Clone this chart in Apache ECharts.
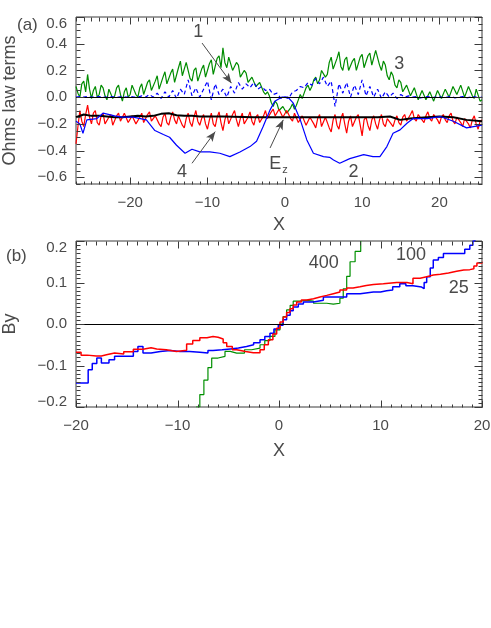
<!DOCTYPE html>
<html><head><meta charset="utf-8">
<script src="https://cdn.jsdelivr.net/npm/echarts@6/dist/echarts.min.js"></script>
<style>html,body{margin:0;padding:0;background:#fff}#c{width:491px;height:628px}</style>
</head><body><div id="c"></div>
<script>
// ---------- Panel (a): Ohm's law terms ----------
const A_X0 = -27, A_DX = 0.25;
const term3Green = [
  0.08,0.03,0.0,0.1,0.12,0.04,0.17,0.06,-0.01,0.05,
  0.08,0.0,0.02,0.09,0.07,0.01,-0.02,0.06,0.06,-0.01,
  0.01,0.07,0.09,0.02,-0.03,0.04,0.07,0.0,0.02,0.09,
  0.08,0.02,0.0,0.07,0.1,0.02,0.03,0.11,0.13,0.05,
  0.05,0.12,0.16,0.06,0.07,0.15,0.19,0.1,0.09,0.18,
  0.21,0.11,0.12,0.22,0.27,0.16,0.15,0.26,0.25,0.14,
  0.12,0.2,0.22,0.12,0.13,0.21,0.24,0.15,0.14,0.25,
  0.28,0.17,0.18,0.29,0.31,0.22,0.37,0.26,0.22,0.3,
  0.31,0.2,0.19,0.26,0.24,0.15,0.14,0.2,0.18,0.11,
  0.1,0.15,0.14,0.08,0.08,0.11,0.1,0.04,0.02,0.04,
  0.01,-0.04,-0.07,-0.03,-0.05,-0.1,-0.11,-0.07,-0.08,-0.12,
  -0.12,-0.08,-0.05,-0.09,-0.06,-0.02,0.02,-0.01,0.03,0.07,
  0.09,0.05,0.08,0.13,0.15,0.1,0.13,0.2,0.21,0.15,
  0.17,0.26,0.3,0.21,0.2,0.29,0.34,0.23,0.2,0.28,
  0.3,0.2,0.19,0.27,0.29,0.2,0.21,0.3,0.32,0.22,
  0.22,0.31,0.33,0.24,0.25,0.35,0.34,0.24,0.2,0.27,
  0.24,0.16,0.13,0.19,0.16,0.09,0.07,0.13,0.11,0.04,
  0.03,0.09,0.08,0.01,0.0,0.07,0.06,-0.02,-0.01,0.05,
  0.05,-0.02,-0.03,0.04,0.04,-0.03,-0.02,0.05,0.05,-0.01,
  0.0,0.06,0.07,0.0,0.01,0.08,0.09,0.02,0.02,0.09,
  0.08,0.0,0.01,0.08,0.09,0.01,-0.01,0.06,0.07,-0.03,
  -0.02];
const term4Red = [
  -0.35,-0.22,-0.1,-0.18,-0.22,-0.13,-0.06,-0.15,-0.2,-0.12,
  -0.1,-0.19,-0.21,-0.14,-0.12,-0.2,-0.2,-0.15,-0.13,-0.21,
  -0.22,-0.14,-0.12,-0.18,-0.19,-0.12,-0.11,-0.19,-0.2,-0.14,
  -0.13,-0.2,-0.21,-0.15,-0.12,-0.19,-0.2,-0.13,-0.11,-0.18,
  -0.19,-0.14,-0.13,-0.2,-0.22,-0.15,-0.12,-0.19,-0.21,-0.15,
  -0.11,-0.17,-0.2,-0.14,-0.13,-0.21,-0.23,-0.16,-0.12,-0.19,
  -0.22,-0.15,-0.1,-0.18,-0.21,-0.16,-0.13,-0.2,-0.24,-0.17,
  -0.12,-0.2,-0.22,-0.15,-0.11,-0.19,-0.25,-0.17,-0.12,-0.2,
  -0.2,-0.13,-0.1,-0.17,-0.22,-0.16,-0.12,-0.2,-0.2,-0.15,
  -0.11,-0.18,-0.21,-0.15,-0.13,-0.19,-0.19,-0.14,-0.1,-0.16,
  -0.15,-0.11,-0.09,-0.14,-0.14,-0.09,-0.1,-0.15,-0.15,-0.1,
  -0.11,-0.16,-0.18,-0.12,-0.12,-0.19,-0.2,-0.14,-0.13,-0.21,
  -0.22,-0.15,-0.14,-0.2,-0.23,-0.16,-0.13,-0.22,-0.21,-0.15,
  -0.14,-0.23,-0.26,-0.17,-0.13,-0.21,-0.24,-0.16,-0.12,-0.2,
  -0.27,-0.18,-0.14,-0.22,-0.22,-0.15,-0.13,-0.21,-0.29,-0.17,
  -0.15,-0.21,-0.25,-0.17,-0.14,-0.2,-0.24,-0.17,-0.13,-0.2,
  -0.22,-0.16,-0.15,-0.2,-0.22,-0.17,-0.14,-0.19,-0.21,-0.15,
  -0.13,-0.18,-0.19,-0.13,-0.1,-0.16,-0.18,-0.13,-0.12,-0.17,
  -0.19,-0.14,-0.11,-0.16,-0.18,-0.13,-0.12,-0.17,-0.2,-0.15,
  -0.13,-0.17,-0.19,-0.14,-0.12,-0.18,-0.2,-0.15,-0.14,-0.19,
  -0.22,-0.16,-0.15,-0.2,-0.23,-0.17,-0.14,-0.2,-0.24,-0.18,
  -0.17];
const B_X0 = -27, B_DX = 0.5;
const term1BlueDashed = [0.0,0.005,0.0,0.005,0.0,0.0,0.005,0.0,0.0,0.005,0.0,0.0,0.005,0.0,0.005,0.0,0.0,0.01,0.0,0.02,
  0.0,0.03,-0.01,0.04,0.0,0.05,-0.01,0.06,0.02,0.13,0.01,0.07,0.0,0.06,0.12,-0.02,0.1,0.02,0.06,0.0,
  0.08,0.03,0.11,0.06,0.1,0.07,0.11,0.06,0.08,0.05,0.06,0.02,0.03,-0.01,0.0,-0.01,0.04,0.05,0.08,0.07,
  0.11,0.09,0.14,0.1,0.15,0.08,0.12,-0.07,0.1,0.03,0.11,0.0,0.09,0.02,0.13,0.01,0.08,0.0,0.06,-0.01,
  0.04,0.0,0.03,-0.01,0.02,0.0,0.01,0.0,0.005,-0.005,0.0,0.005,-0.005,0.0,0.005,-0.005,0.0,0.005,-0.005,0.0,
  0.005,-0.005,0.0,0.005,-0.005,0.0];
const term2X = [-27,-26.5,-26.1,-25.6,-24.3,-23.5,-22,-21,-19.6,-17.9,-16.8,-15.7,-14.9,-14,-12.9,-12,-11,-9.7,-8.4,-7.1,
  -5.8,-4.5,-3.65,-2.8,-1.9,-1.3,-0.4,0.4,1.1,2,2.85,3.7,5,5.8,6.3,7.1,8.4,10.2,11.4,12.3,13.2,14,14.9,15.8,16.6,18.4,20.1,21.8,23.5,25.5];
const term2Y = [-0.18,-0.2,-0.27,-0.17,-0.16,-0.12,-0.14,-0.15,-0.15,-0.17,-0.25,-0.28,-0.3,-0.36,-0.42,-0.39,-0.41,-0.41,-0.42,-0.445,
  -0.41,-0.37,-0.33,-0.22,-0.095,-0.03,0.0,0.0,-0.045,-0.17,-0.32,-0.42,-0.445,-0.45,-0.47,-0.495,-0.46,-0.43,-0.445,-0.445,
  -0.37,-0.27,-0.245,-0.195,-0.16,-0.16,-0.145,-0.18,-0.23,-0.21];
const ezX = [-27,-26,-25,-24,-23,-22,-21,-20,-19,-18,-17,-16,-15,-14,-13,-12,-11,-8,-4,0,4,8,12,13.6,14.9,16.2,18.4,20,21.8,23.5,25.5];
const ezY = [-0.15,-0.13,-0.14,-0.14,-0.145,-0.15,-0.15,-0.145,-0.14,-0.145,-0.14,-0.125,-0.12,-0.135,-0.14,-0.14,-0.145,-0.145,-0.15,-0.15,-0.15,-0.15,-0.15,-0.145,-0.17,-0.16,-0.15,-0.145,-0.15,-0.17,-0.18];
const aXTicks = [-20,-10,0,10,20];
const aYTicks = [-0.6,-0.4,-0.2,0,0.2,0.4,0.6];

// ---------- Panel (b): By ----------
const by100X = [-20,-19.3,-18.8,-18.4,-17.95,-17.5,-16.75,-16.2,-15.3,-14.35,-13.9,-13.4,-12.6,-11.7,-10.7,-9.75,-8.8,-7.8,-7,-6.5,
  -5.6,-4.8,-4,-3.2,-2.5,-1.87,-1.4,-0.89,-0.5,-0.07,0.4,0.75,1.1,1.4,1.9,2.4,3.4,4.37,5.7,6.67,
  8,9.3,10,10.6,11.2,11.9,12.5,13.2,14.05,14.3,14.55,14.9,15.2,15.7,16.2,17,17.8,18.3,18.8,19.1,19.3];
const by100Y = [-0.142,-0.142,-0.11,-0.095,-0.082,-0.094,-0.086,-0.078,-0.078,-0.066,-0.054,-0.07,-0.066,-0.064,-0.066,-0.066,-0.068,-0.07,-0.064,-0.062,
  -0.06,-0.058,-0.054,-0.05,-0.045,-0.038,-0.03,-0.022,-0.012,-0.003,0.01,0.021,0.032,0.041,0.048,0.053,0.057,0.065,0.065,0.073,
  0.077,0.077,0.08,0.082,0.09,0.097,0.092,0.089,0.085,0.1,0.114,0.135,0.154,0.16,0.17,0.17,0.17,0.18,0.19,0.2,0.21];
const by25X = [-20,-19.5,-18.9,-18,-17.5,-17,-16.2,-15.3,-14.35,-13.4,-12.6,-12.05,-11.1,-10.1,-9.1,-8.5,-7.8,-7.1,-6.5,-6,
  -5.5,-5.15,-4.6,-4.17,-3.3,-2.53,-1.87,-1.45,-1.05,-0.6,-0.23,0.1,0.42,0.75,1.08,1.4,1.74,2.2,2.73,3.4,
  4.04,4.7,5.35,6,6.67,7.3,7.98,8.6,9.3,10.28,11.6,12.6,13.2,13.9,14.55,15.2,15.9,16.7,17.5,18.2,18.8,19.2,19.5,20];
const by25Y = [-0.068,-0.075,-0.077,-0.077,-0.074,-0.07,-0.072,-0.067,-0.061,-0.057,-0.06,-0.062,-0.066,-0.063,-0.048,-0.04,-0.033,-0.03,-0.032,-0.036,
  -0.045,-0.054,-0.062,-0.066,-0.069,-0.069,-0.062,-0.05,-0.038,-0.024,-0.01,0.005,0.017,0.028,0.037,0.046,0.053,0.058,0.061,0.065,
  0.069,0.073,0.077,0.082,0.087,0.09,0.093,0.095,0.097,0.1,0.1,0.097,0.11,0.114,0.118,0.12,0.123,0.127,0.13,0.131,0.133,0.14,0.147,0.15];
const by400X = [-8.18,-7.8,-7.4,-7,-6.63,-6,-5.32,-4.8,-4.17,-3.4,-2.7,-1.87,-1.4,-0.89,-0.4,0.1,0.4,0.75,1.1,1.4,2,2.7,3.4,4.04,4.7,5.35,6,6.33,6.67,7,7.5,8.05];
const by400Y = [-0.2,-0.17,-0.135,-0.105,-0.082,-0.078,-0.066,-0.07,-0.07,-0.062,-0.058,-0.05,-0.04,-0.03,-0.014,0,0.018,0.034,0.045,0.055,0.057,0.055,0.05,0.05,0.048,0.05,0.062,0.085,0.115,0.15,0.175,0.2];
const bXTicks = [-20,-10,0,10,20];
const bYTicks = [-0.2,-0.1,0,0.1,0.2];

// ---------- helpers ----------
const pairs = (xs, ys) => ys.map((y, i) => [xs[i], y]);
const sampled = (ys, x0, dx) => ys.map((y, i) => [x0 + dx * i, y]);
const FONT = 'Liberation Sans';
const TXT = '#4a4a4a';
const AX = '#3a3a3a';
const minus = s => String(s).replace('-', '\u2212');
const fmtNum = v => minus((Math.abs(v) < 1e-9 ? 0 : v).toFixed(1));
const fmtX = v => minus(Math.round(v));
const fmtYEdge = (lo, hi) => v => {
  const s = fmtNum(v);
  if (Math.abs(v - hi) < 1e-6) return '{t|' + s + '}';
  if (Math.abs(v - lo) < 1e-6) return '{b|' + s + '}';
  return s;
};
const nameStyle = {color: TXT, fontFamily: FONT, fontSize: 18};
const labStyle = {color: TXT, fontFamily: FONT, fontSize: 15};

const A = {g: 0, left: 76, top: 17, w: 406, h: 167, xmin: -27, xmax: 25.5, ymin: -0.65, ymax: 0.6};
const B = {g: 1, left: 76, top: 241, w: 406, h: 166, xmin: -20, xmax: 20, ymin: -0.2, ymax: 0.2};

function xAxisFor(P, major, nameGap) {
  return {gridIndex: P.g, type: 'value', min: P.xmin, max: P.xmax, position: 'bottom', splitLine: {show: false},
    axisLine: {show: false, onZero: false}, axisTick: {show: false},
    axisLabel: Object.assign({show: true, customValues: major, formatter: fmtX, margin: 11}, labStyle),
    name: 'X', nameLocation: 'middle', nameGap, nameTextStyle: nameStyle};
}
function yAxisFor(P, major, name, tPad, bPad) {
  return {gridIndex: P.g, type: 'value', min: P.ymin, max: P.ymax, position: 'left', splitLine: {show: false},
    axisLine: {show: false, onZero: false}, axisTick: {show: false},
    axisLabel: Object.assign({show: true, customValues: major, formatter: fmtYEdge(major[0], major[major.length - 1]), margin: 9,
      rich: {t: {fontSize: 15, color: TXT, fontFamily: FONT, padding: [tPad, 0, 0, 0]},
             b: {fontSize: 15, color: TXT, fontFamily: FONT, padding: [0, 0, bPad, 0]}}}, labStyle),
    name, nameLocation: 'middle', nameGap: 57, nameRotate: 90, nameTextStyle: nameStyle};
}

const lbl = (coord, text, size) => ({coord, symbol: 'circle', symbolSize: 0,
  label: {show: true, position: 'inside', formatter: text, color: TXT, fontFamily: FONT, fontSize: size || 18,
    rich: {s: {fontSize: 11, color: TXT, fontFamily: FONT, padding: [12, 0, 0, 1]}}}});
const arrow = (a, b) => [{coord: a, symbol: 'none'}, {coord: b, symbol: 'arrow', symbolSize: [6, 10]}];

const line = (name, data, color, xi, yi, extra) => Object.assign({
  name, type: 'line', data, xAxisIndex: xi, yAxisIndex: yi, showSymbol: false, symbol: 'none',
  clip: true, animation: false, lineStyle: {color, width: 1.2}, itemStyle: {color}}, extra || {});

const gridOf = P => ({left: P.left, top: P.top, width: P.w, height: P.h, outerBoundsMode: 'none', containLabel: false,
  show: true, borderColor: AX, borderWidth: 1, backgroundColor: 'transparent'});

const baseGraphic = [
  {type: 'text', left: 17, top: 17, style: {text: '(a)', fill: TXT, font: '17px ' + FONT}},
  {type: 'text', left: 6, top: 248, style: {text: '(b)', fill: TXT, font: '17px ' + FONT}}
];

const option = {
  animation: false,
  backgroundColor: '#fff',
  grid: [gridOf(A), gridOf(B)],
  xAxis: [xAxisFor(A, aXTicks, 32), xAxisFor(B, bXTicks, 35)],
  yAxis: [yAxisFor(A, aYTicks, 'Ohms law terms', 14, 0), yAxisFor(B, bYTicks, 'By', 14, 10)],
  graphic: baseGraphic,
  series: [
    line('3', sampled(term3Green, A_X0, A_DX), '#008c00', 0, 0),
    line('1', sampled(term1BlueDashed, B_X0, B_DX), '#0000ff', 0, 0, {lineStyle: {color: '#0000ff', width: 1.2, type: [4, 3]}}),
    line('4', sampled(term4Red, A_X0, A_DX), '#ff0000', 0, 0),
    line('Ez', pairs(ezX, ezY), '#000000', 0, 0, {lineStyle: {color: '#000', width: 2},
      markLine: {silent: true, animation: false, symbol: ['none', 'none'], label: {show: false},
        lineStyle: {color: '#4a4a4a', width: 1, type: 'solid'},
        data: [
          [{coord: [A.xmin, 0], symbol: 'none', lineStyle: {color: '#000'}}, {coord: [A.xmax, 0], symbol: 'none'}],
          arrow([-10.7, 0.405], [-6.9, 0.105]),
          arrow([-12.0, -0.495], [-9.0, -0.258]),
          arrow([-1.9, -0.38], [-0.2, -0.17])
        ]},
      markPoint: {silent: true, animation: false, data: [
        lbl([-11.2, 0.49], '1'),
        lbl([14.8, 0.25], '3'),
        lbl([8.9, -0.56], '2'),
        lbl([-13.3, -0.56], '4'),
        lbl([-0.8, -0.5], 'E{s|z}')
      ]}}),
    line('2', pairs(term2X, term2Y), '#0000ff', 0, 0),

    line('400', pairs(by400X, by400Y), '#009000', 1, 1, {step: 'end'}),
    line('100', pairs(by100X, by100Y), '#0000ff', 1, 1, {step: 'end', lineStyle: {color: '#0000ff', width: 1.5}}),
    line('25', pairs(by25X, by25Y), '#ff0000', 1, 1, {step: 'end', lineStyle: {color: '#ff0000', width: 1.5},
      markLine: {silent: true, animation: false, symbol: ['none', 'none'], label: {show: false},
        lineStyle: {color: '#000', width: 1, type: 'solid'},
        data: [[{coord: [B.xmin, 0]}, {coord: [B.xmax, 0]}]]},
      markPoint: {silent: true, animation: false, data: [
        lbl([4.4, 0.146], '400'),
        lbl([13.0, 0.167], '100'),
        lbl([17.7, 0.086], '25')
      ]}})
  ]
};
const chart = echarts.init(document.getElementById('c'), null, {renderer: 'canvas'});
chart.setOption(option);

// IDL-style inward tick marks on all four sides, placed with the chart's own axis scales
function tickEls(P, xMajor, xStep, yMajor, yStep) {
  const els = [];
  const isMajor = (arr, v) => arr.some(m => Math.abs(m - v) < 1e-6);
  const px = (x, y) => chart.convertToPixel({gridIndex: P.g}, [x, y]);
  const seg = (x1, y1, x2, y2) => ({type: 'line', silent: true, z: 50,
    shape: {x1: Math.round(x1) + 0.5, y1: Math.round(y1) + 0.5, x2: Math.round(x2) + 0.5, y2: Math.round(y2) + 0.5},
    style: {stroke: AX, lineWidth: 1}});
  for (let k = Math.ceil(P.xmin / xStep - 1e-9); k * xStep <= P.xmax + 1e-9; k++) {
    const v = +(k * xStep).toFixed(6);
    const len = isMajor(xMajor, v) ? 7 : 3.5;
    const b = px(v, P.ymin), t = px(v, P.ymax);
    els.push(seg(b[0], b[1], b[0], b[1] - len));
    els.push(seg(t[0], t[1], t[0], t[1] + len));
  }
  for (let k = Math.ceil(P.ymin / yStep - 1e-9); k * yStep <= P.ymax + 1e-9; k++) {
    const v = +(k * yStep).toFixed(6);
    const len = isMajor(yMajor, v) ? 8 : 4;
    const l = px(P.xmin, v), r = px(P.xmax, v);
    els.push(seg(l[0], l[1], l[0] + len, l[1]));
    els.push(seg(r[0], r[1], r[0] - len, r[1]));
  }
  return els;
}
chart.setOption({graphic: baseGraphic.concat(
  tickEls(A, aXTicks, 1, aYTicks, 0.05),
  tickEls(B, bXTicks, 1, bYTicks, 0.01)
)});
</script></body></html>
